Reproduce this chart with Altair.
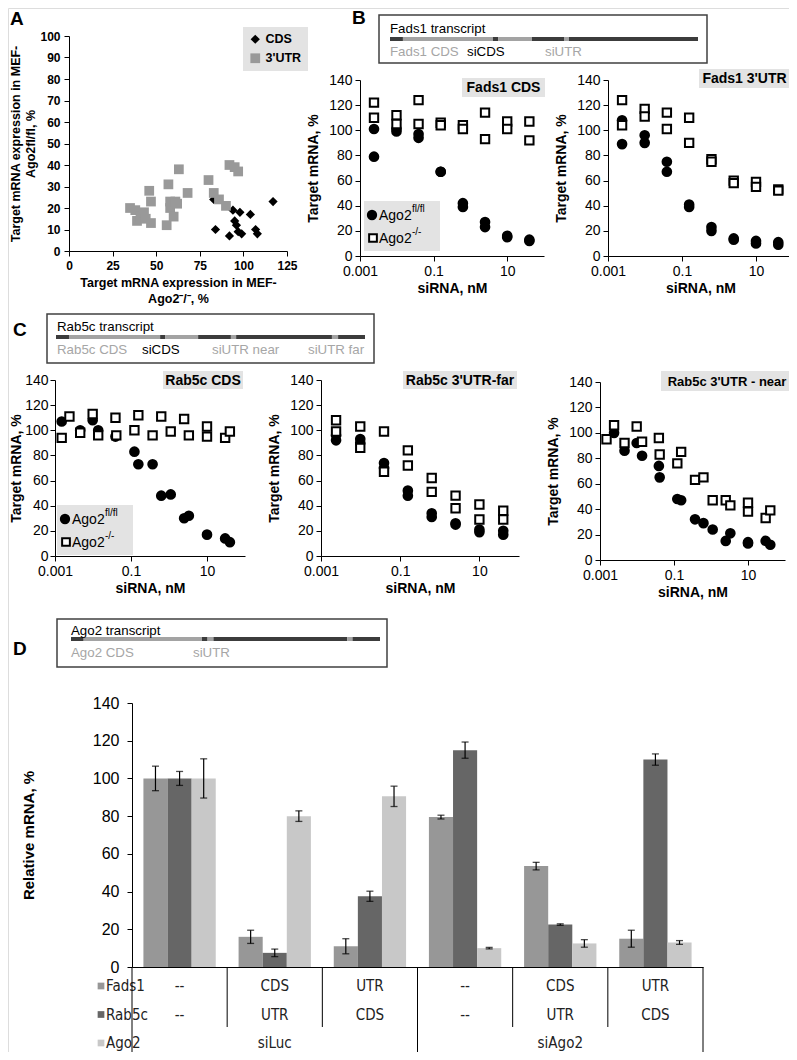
import altair as alt
import pandas as pd

FONT = "Liberation Sans"
NARROW = "'Liberation Sans Narrow', 'DejaVu Sans Condensed', 'Liberation Sans', sans-serif"
W, H = 781, 1044
M = 8  # page margin


def px(v):
    return v - M


# ---------------- data ----------------
# Panel A: target mRNA (%) in MEF-Ago2-/- (x) vs MEF-Ago2fl/fl (y)
a_types = ["CDS", "3'UTR"]
a_cds_x = [83, 84, 92, 94, 95, 96, 97, 98, 99, 104, 107, 108, 117]
a_cds_y = [24, 10, 7, 19, 14, 12, 9, 18, 8, 17, 10, 8, 23]
a_utr_x = [35, 38, 39, 41, 43, 44, 46, 47, 47, 56, 57, 58, 58, 60, 61, 62, 63, 68, 80, 83, 86, 90, 92, 95, 97]
a_utr_y = [20, 19, 14, 16, 18, 15, 28, 23, 13, 12, 31, 20, 23, 16, 23, 22, 38, 27, 33, 27, 24, 21, 40, 39, 37]

# siRNA doses (nM)
dose_4fold = [0.0024, 0.0098, 0.039, 0.156, 0.625, 2.5, 10, 40]
genotypes = ["Ago2 fl/fl", "Ago2 -/-"]

# Fads1 CDS (two replicates per dose)
fads1_cds_fl = [[101, 101, 97, 67, 42, 27, 16, 13], [79, 99, 94, 67, 39, 23, 15, 12]]
fads1_cds_ko = [[122, 112, 124, 106, 104, 114, 107, 107], [110, 105, 105, 104, 101, 93, 101, 92]]
# Fads1 3'UTR
fads1_utr_fl = [[108, 96, 75, 41, 23, 14, 12, 11], [89, 90, 67, 39, 20, 13, 10, 9]]
fads1_utr_ko = [[124, 117, 114, 110, 77, 60, 59, 53], [104, 111, 101, 90, 75, 58, 55, 52]]
# Rab5c 3'UTR-far
rab5c_far_fl = [[96, 93, 74, 52, 34, 26, 21, 20], [92, 90, 70, 48, 31, 25, 19, 17]]
rab5c_far_ko = [[108, 103, 99, 84, 62, 48, 41, 36], [99, 86, 67, 72, 51, 38, 29, 29]]
# Rab5c CDS (dose, value)
rab5c_cds_fl_dose = [0.0015, 0.0046, 0.0098, 0.0137, 0.039, 0.123, 0.156, 0.37, 0.625, 1.11, 2.5, 3.33, 10, 30, 40]
rab5c_cds_fl_val = [107, 100, 108, 100, 95, 83, 73, 73, 48, 49, 30, 32, 17, 14, 11]
rab5c_cds_ko_dose = [0.0015, 0.0024, 0.0046, 0.0098, 0.0137, 0.039, 0.041, 0.123, 0.156, 0.37, 0.625, 1.11, 2.5, 3.33, 10, 10, 30, 40]
rab5c_cds_ko_val = [94, 111, 98, 113, 96, 110, 96, 100, 112, 96, 111, 99, 109, 96, 103, 95, 94, 99]
# Rab5c 3'UTR-near (dose, value)
rab5c_near_fl_dose = [0.0024, 0.0046, 0.0098, 0.0137, 0.039, 0.041, 0.123, 0.156, 0.37, 0.625, 1.11, 2.5, 3.33, 10, 10, 30, 40]
rab5c_near_fl_val = [100, 86, 92, 82, 74, 65, 48, 47, 32, 29, 24, 15, 21, 14, 13, 15, 12]
rab5c_near_ko_dose = [0.0015, 0.0024, 0.0046, 0.0098, 0.0137, 0.039, 0.041, 0.123, 0.156, 0.37, 0.625, 1.11, 2.5, 3.33, 10, 10, 30, 40]
rab5c_near_ko_val = [95, 106, 92, 105, 93, 96, 83, 76, 85, 63, 65, 47, 47, 43, 45, 38, 33, 39]

panel_titles = ["Fads1 CDS", "Fads1 3'UTR", "Rab5c CDS", "Rab5c 3'UTR-far", "Rab5c 3'UTR - near"]

# Transcript schematics: segments in % of transcript length
seg_kinds = ["utr", "cds", "site_cds", "site_utr"]
fads1_seg_start = [0, 4.2, 33.4, 35.1, 46.1, 56.5, 58.1]
fads1_seg_end = [4.2, 33.4, 35.1, 46.1, 56.5, 58.1, 100]
fads1_seg_kind = ["utr", "cds", "site_cds", "cds", "utr", "site_utr", "utr"]
rab5c_seg_start = [0, 4.2, 33.7, 35.3, 46.0, 56.6, 58.3, 89.3, 91.3]
rab5c_seg_end = [4.2, 33.7, 35.3, 46.0, 56.6, 58.3, 89.3, 91.3, 100]
rab5c_seg_kind = ["utr", "cds", "site_cds", "cds", "utr", "site_utr", "utr", "site_utr", "utr"]
ago2_seg_start = [0, 4.1, 42.4, 44.2, 46.1, 89.4, 91.1]
ago2_seg_end = [4.1, 42.4, 44.2, 46.1, 89.4, 91.1, 100]
ago2_seg_kind = ["utr", "cds", "utr", "site_utr", "utr", "site_utr", "utr"]

# Panel D
d_groups = ["g1", "g2", "g3", "g4", "g5", "g6"]
d_genes = ["Fads1", "Rab5c", "Ago2"]
fads1_rel = [100, 16, 11, 79.5, 53.5, 15]
fads1_err = [6.5, 3.5, 4, 1, 2, 4.5]
rab5c_rel = [100, 7.5, 37.5, 115, 22.5, 110]
rab5c_err = [3.7, 2, 2.7, 4.3, 0.4, 3]
ago2_rel = [100, 80, 90.5, 10, 12.5, 13]
ago2_err = [10.4, 2.8, 5.4, 0.4, 2, 1]
table_fads1 = ["--", "CDS", "UTR", "--", "CDS", "UTR"]
table_rab5c = ["--", "UTR", "CDS", "--", "UTR", "CDS"]
table_ago2 = ["siLuc", "siAgo2"]
table_ago2_groups = ["g2", "g5"]
table_long_lines = [0, 3, 6]
table_short_lines = [1, 2, 4, 5]

ONE = pd.DataFrame({"k": [0]})


# ---------------- helpers ----------------
def axis(orient, offset, values, title, lab_size=14, lab_bold=False, title_size=14,
         title_pad=4, lab_pad=3, **kw):
    d = dict(orient=orient, offset=offset, values=values, title=title, grid=False,
             domainColor="black", domainWidth=1, tickColor="black", tickSize=5, tickWidth=1,
             labelFont=FONT, labelFontSize=lab_size, labelColor="black",
             labelFontWeight="bold" if lab_bold else "normal", labelPadding=lab_pad,
             labelOverlap=False, labelFlush=False, titleFont=FONT, titleFontSize=title_size,
             titleFontWeight="bold", titleColor="black", titlePadding=title_pad)
    d.update(kw)
    return alt.Axis(**d)


def ann_text(s, x, y, size, bold=False, color="black", align="left", font=FONT):
    return alt.Chart(pd.DataFrame({"t": [s]})).mark_text(
        align=align, baseline="middle", fontSize=size,
        fontWeight="bold" if bold else "normal", color=color, font=font
    ).encode(x=alt.value(px(x)), y=alt.value(px(y)), text="t:N")


def ann_rect(x1, y1, x2, y2, **mk):
    return alt.Chart(ONE).mark_rect(**mk).encode(
        x=alt.value(px(x1)), x2=alt.value(px(x2)), y=alt.value(px(y1)), y2=alt.value(px(y2)))


def ann_symbol(x, y, shape, fill, size):
    return alt.Chart(ONE).mark_point(shape=shape, filled=True, fill=fill, stroke="black",
                                     strokeWidth=2, size=size, opacity=1).encode(
        x=alt.value(px(x)), y=alt.value(px(y)))


def reps_df(fl_reps, ko_reps):
    rows = []
    for reps, g in ((fl_reps, genotypes[0]), (ko_reps, genotypes[1])):
        for rep in reps:
            for c, v in zip(dose_4fold, rep):
                rows.append({"conc": c, "val": v, "geno": g})
    return pd.DataFrame(rows)


def pairs_df(fl_c, fl_v, ko_c, ko_v):
    rows = [{"conc": c, "val": v, "geno": genotypes[0]} for c, v in zip(fl_c, fl_v)]
    rows += [{"conc": c, "val": v, "geno": genotypes[1]} for c, v in zip(ko_c, ko_v)]
    return pd.DataFrame(rows)


def dose_panel(df, xr, yr, ytitle_pad=8, ylab_pad=3):
    xs = alt.Scale(type="log", domain=[0.001, 100], range=[px(xr[0]), px(xr[1])], nice=False)
    ys = alt.Scale(domain=[0, 140], range=[px(yr[0]), px(yr[1])], nice=False, zero=False)
    return alt.Chart(df).mark_point(filled=True, stroke="black", strokeWidth=2, opacity=1).encode(
        x=alt.X("conc:Q", scale=xs,
                axis=axis("bottom", px(yr[0]) - H, [0.001, 0.1, 10], "siRNA, nM", format="~g",
                          title_pad=3)),
        y=alt.Y("val:Q", scale=ys,
                axis=axis("left", -px(xr[0]), list(range(0, 141, 20)), "Target mRNA, %",
                          title_pad=ytitle_pad, lab_pad=ylab_pad)),
        shape=alt.Shape("geno:N", scale=alt.Scale(domain=genotypes, range=["circle", "square"]), legend=None),
        fill=alt.Fill("geno:N", scale=alt.Scale(domain=genotypes, range=["black", "white"]), legend=None),
        size=alt.Size("geno:N", scale=alt.Scale(domain=genotypes, range=[75, 70]), legend=None),
    )


def transcript(starts, ends, kinds, x0, x1, yline):
    df = pd.DataFrame({"start": starts, "end": ends, "kind": kinds})
    xs = alt.Scale(domain=[0, 100], range=[px(x0), px(x1)], nice=False, zero=False)
    return alt.Chart(df).mark_rule(strokeWidth=4).encode(
        x=alt.X("start:Q", scale=xs, axis=None), x2="end:Q", y=alt.value(px(yline)),
        color=alt.Color("kind:N", scale=alt.Scale(domain=seg_kinds,
                                                  range=["#3c3c3c", "#a3a3a3", "#3c3c3c", "#a3a3a3"]),
                        legend=None))


def legend_box(x0, y0):
    parts = [ann_rect(x0, y0, x0 + 76, y0 + 50, fill="#e3e3e3")]
    parts.append(ann_symbol(x0 + 8, y0 + 14, "circle", "black", 70))
    parts.append(ann_symbol(x0 + 9, y0 + 37, "square", "white", 60))
    parts.append(ann_text("Ago2", x0 + 15, y0 + 15, 14))
    parts.append(ann_text("fl/fl", x0 + 48, y0 + 8, 10))
    parts.append(ann_text("Ago2", x0 + 15, y0 + 38, 14))
    parts.append(ann_text("-/-", x0 + 48, y0 + 31, 10))
    return parts


def title_box(s, x1, y1, x2, y2, size=14):
    return [ann_rect(x1, y1, x2, y2, fill="#e3e3e3"),
            ann_text(s, (x1 + x2) / 2, (y1 + y2) / 2 + 0.5, size, bold=True, align="center")]


layers = []

# ---------- backgrounds ----------
layers += title_box(panel_titles[0], 462, 78, 545, 97)
layers += title_box(panel_titles[1], 699, 69, 790, 88)
layers += title_box(panel_titles[2], 163, 371, 243, 389)
layers += title_box(panel_titles[3], 403, 371, 517, 389)
layers += title_box(panel_titles[4], 661, 371, 793, 391, size=13)
layers += legend_box(364, 201)
layers += legend_box(57, 505)

# ---------- Panel A ----------
dfA = pd.DataFrame({"x": a_cds_x + a_utr_x, "y": a_cds_y + a_utr_y,
                    "type": [a_types[0]] * len(a_cds_x) + [a_types[1]] * len(a_utr_x)})
legA = alt.Legend(orient="none", legendX=px(243), legendY=px(27), title=None, fillColor="#e3e3e3",
                  padding=6, labelFont=FONT, labelFontSize=12.5, labelFontWeight="bold",
                  labelColor="black", symbolSize=80, rowPadding=6, symbolStrokeWidth=0)
panelA = alt.Chart(dfA).mark_point(filled=True, opacity=1).encode(
    x=alt.X("x:Q", scale=alt.Scale(domain=[0, 125], range=[px(69), px(287)], nice=False),
            axis=axis("bottom", px(251) - H, [0, 25, 50, 75, 100, 125],
                      ["Target mRNA expression in MEF-", "Ago2\u207b/\u207b, %"],
                      lab_size=12, lab_bold=True, title_size=12.5, title_pad=5, lab_pad=4,
                      titleLineHeight=16)),
    y=alt.Y("y:Q", scale=alt.Scale(domain=[0, 100], range=[px(251), px(36)], nice=False),
            axis=axis("left", -px(69), list(range(0, 101, 10)),
                      ["Target mRNA expression in MEF-", "Ago2fl/fl, %"],
                      lab_size=12, lab_bold=True, title_size=12.5, title_pad=2, lab_pad=4,
                      titleLineHeight=15)),
    color=alt.Color("type:N", scale=alt.Scale(domain=a_types, range=["black", "#999999"]), legend=legA),
    shape=alt.Shape("type:N", scale=alt.Scale(domain=a_types, range=["diamond", "square"]), legend=legA),
    size=alt.Size("type:N", scale=alt.Scale(domain=a_types, range=[85, 95]), legend=None),
)
layers.append(panelA)

# ---------- Panels B, C ----------
layers.append(dose_panel(reps_df(fads1_cds_fl, fads1_cds_ko), (360, 544), (256, 80)))
layers.append(dose_panel(reps_df(fads1_utr_fl, fads1_utr_ko), (608, 793), (256, 80)))
layers.append(dose_panel(pairs_df(rab5c_cds_fl_dose, rab5c_cds_fl_val, rab5c_cds_ko_dose, rab5c_cds_ko_val),
                         (55, 245), (556, 380), ytitle_pad=1, ylab_pad=2))
layers.append(dose_panel(reps_df(rab5c_far_fl, rab5c_far_ko), (321, 519), (556, 380)))
layers.append(dose_panel(pairs_df(rab5c_near_fl_dose, rab5c_near_fl_val, rab5c_near_ko_dose, rab5c_near_ko_val),
                         (600, 785), (560, 382)))

# ---------- Panel D ----------
rows = []
for gene, vals, errs in zip(d_genes, [fads1_rel, rab5c_rel, ago2_rel], [fads1_err, rab5c_err, ago2_err]):
    for g, v, e in zip(d_groups, vals, errs):
        rows.append({"grp": g, "gene": gene, "val": v, "lo": v - e, "hi": v + e})
dfD = pd.DataFrame(rows)
band = alt.Scale(domain=d_groups, range=[px(132), px(703)], paddingInner=0.24, paddingOuter=0.12)
offs = alt.Scale(domain=d_genes, paddingInner=0, paddingOuter=0)
ysD = alt.Scale(domain=[0, 140], range=[px(967), px(703)], nice=False)
colD = alt.Scale(domain=d_genes, range=["#979797", "#666666", "#c8c8c8"])
xD = alt.X("grp:N", scale=band, axis=alt.Axis(orient="bottom", offset=px(967) - H, labels=False,
                                               ticks=False, title=None, domainColor="black", grid=False))
bars = alt.Chart(dfD).mark_bar().encode(
    x=xD, xOffset=alt.XOffset("gene:N", scale=offs),
    y=alt.Y("val:Q", scale=ysD,
            axis=axis("left", -px(132), list(range(0, 141, 20)), "Relative mRNA, %",
                      lab_size=16, title_size=15, lab_pad=8, title_pad=56)),
    color=alt.Color("gene:N", scale=colD, legend=None))
err = alt.Chart(dfD).mark_rule(color="black", strokeWidth=1.2).encode(
    x=xD, xOffset=alt.XOffset("gene:N", scale=offs), y=alt.Y("lo:Q", scale=ysD), y2="hi:Q")
cap_lo = alt.Chart(dfD).mark_tick(color="black", size=7, thickness=1.3).encode(
    x=xD, xOffset=alt.XOffset("gene:N", scale=offs), y=alt.Y("lo:Q", scale=ysD))
cap_hi = alt.Chart(dfD).mark_tick(color="black", size=7, thickness=1.3).encode(
    x=xD, xOffset=alt.XOffset("gene:N", scale=offs), y=alt.Y("hi:Q", scale=ysD))
layers.append(alt.layer(bars, err, cap_lo, cap_hi))

# table below the bars
trows = []
for g, t in zip(d_groups, table_fads1):
    trows.append({"grp": g, "row": "Fads1", "t": t})
for g, t in zip(d_groups, table_rab5c):
    trows.append({"grp": g, "row": "Rab5c", "t": t})
for g, t in zip(table_ago2_groups, table_ago2):
    trows.append({"grp": g, "row": "Ago2", "t": t})
rowScale = alt.Scale(domain=d_genes, range=[px(986), px(1043)], padding=0)
layers.append(alt.Chart(pd.DataFrame(trows)).mark_text(font=NARROW, fontSize=15, color="#222222",
                                                       baseline="middle").encode(
    x=alt.X("grp:N", scale=band, axis=None),
    y=alt.Y("row:N", scale=rowScale, axis=None), text="t:N"))
dfL = pd.DataFrame({"gene": d_genes})
layers.append(alt.Chart(dfL).mark_square(size=45, opacity=1).encode(
    x=alt.value(px(101)), y=alt.Y("gene:N", scale=rowScale, axis=None),
    color=alt.Color("gene:N", scale=colD, legend=None)))
layers.append(alt.Chart(dfL).mark_text(font=NARROW, fontSize=15, color="#222222", align="left",
                                       baseline="middle").encode(
    x=alt.value(px(106)), y=alt.Y("gene:N", scale=rowScale, axis=None), text="gene:N"))
lineScale = alt.Scale(domain=[0, 6], range=[px(132), px(703)], nice=False, zero=False)
layers.append(alt.Chart(pd.DataFrame({"b": table_long_lines})).mark_rule(color="black", strokeWidth=1).encode(
    x=alt.X("b:Q", scale=lineScale, axis=None), y=alt.value(px(967)), y2=alt.value(H)))
layers.append(alt.Chart(pd.DataFrame({"b": table_short_lines})).mark_rule(color="black", strokeWidth=1).encode(
    x=alt.X("b:Q", scale=lineScale, axis=None), y=alt.value(px(967)), y2=alt.value(px(1027))))

# ---------- transcript schematics ----------
layers.append(ann_rect(379, 15, 707, 63, fill="white", fillOpacity=0, stroke="#404040", strokeWidth=1.5))
layers.append(ann_rect(47, 314, 374, 363, fill="white", fillOpacity=0, stroke="#404040", strokeWidth=1.5))
layers.append(ann_rect(57, 619, 387, 667, fill="white", fillOpacity=0, stroke="#404040", strokeWidth=1.5))
layers.append(transcript(fads1_seg_start, fads1_seg_end, fads1_seg_kind, 390, 698, 39))
layers.append(transcript(rab5c_seg_start, rab5c_seg_end, rab5c_seg_kind, 56, 365, 337))
layers.append(transcript(ago2_seg_start, ago2_seg_end, ago2_seg_kind, 71, 380, 639))
GRAY_T = "#a6a6a6"
layers += [
    ann_text("Fads1 transcript", 390, 29, 13.3),
    ann_text("Fads1 CDS", 390, 52, 13.3, color=GRAY_T),
    ann_text("siCDS", 467, 52, 13.3),
    ann_text("siUTR", 545, 52, 13.3, color=GRAY_T),
    ann_text("Rab5c transcript", 57, 327, 13.3),
    ann_text("Rab5c CDS", 57, 350, 13.3, color=GRAY_T),
    ann_text("siCDS", 142, 350, 13.3),
    ann_text("siUTR near", 212, 350, 13.3, color=GRAY_T),
    ann_text("siUTR far", 308, 350, 13.3, color=GRAY_T),
    ann_text("Ago2 transcript", 71, 631, 13.3),
    ann_text("Ago2 CDS", 71, 653, 13.3, color=GRAY_T),
    ann_text("siUTR", 193, 653, 13.3, color=GRAY_T),
]

# ---------- panel letters ----------
layers += [
    ann_text("A", 10, 19, 19, bold=True),
    ann_text("B", 352, 18, 19, bold=True),
    ann_text("C", 13, 330, 19, bold=True),
    ann_text("D", 13, 649, 19, bold=True),
]

chart = alt.layer(*layers).resolve_scale(
    x="independent", y="independent", color="independent", shape="independent",
    fill="independent", size="independent", xOffset="independent"
).resolve_axis(x="independent", y="independent").resolve_legend(
    color="independent", shape="independent"
).properties(
    width=W, height=H, padding=0, autosize=alt.AutoSizeParams(type="none")
).configure_view(stroke=None).configure(background="white")

chart.save("out.html", embed_options={"renderer": "svg", "actions": False})
